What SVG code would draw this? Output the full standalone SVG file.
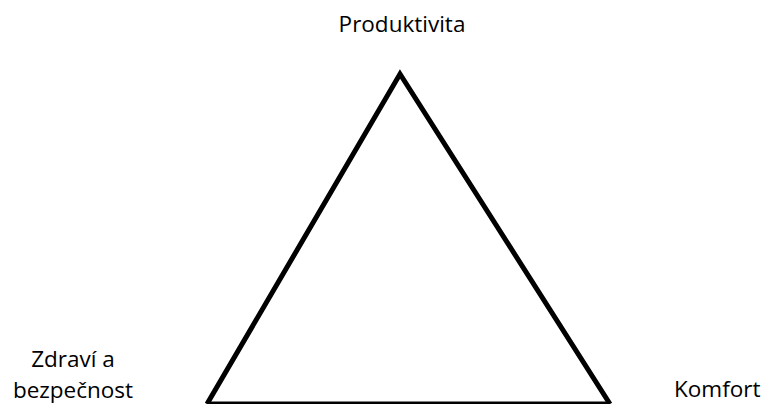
<svg xmlns="http://www.w3.org/2000/svg" width="763" height="404" viewBox="0 0 763 404">
<style>
text{font-family:"Open Sans","Liberation Sans",sans-serif;font-size:22.5px;fill:#000}
.edge{fill:none;stroke:#000;stroke-width:5;stroke-linejoin:miter}
</style>
<rect width="763" height="404" fill="#fff"/>
<g id="connectors">
<path class="edge" d="M207,404 L400,74 L610,404"/>
<line x1="207" y1="403" x2="610" y2="403" stroke="#000" stroke-width="3"/>
</g>
<g id="produktivita"><text x="402" y="32" text-anchor="middle">Produktivita</text></g>
<g id="zdravi"><text x="73" y="367" text-anchor="middle">Zdraví a</text><text x="73" y="398" text-anchor="middle">bezpečnost</text></g>
<g id="komfort"><text x="674" y="397">Komfort</text></g>
</svg>
